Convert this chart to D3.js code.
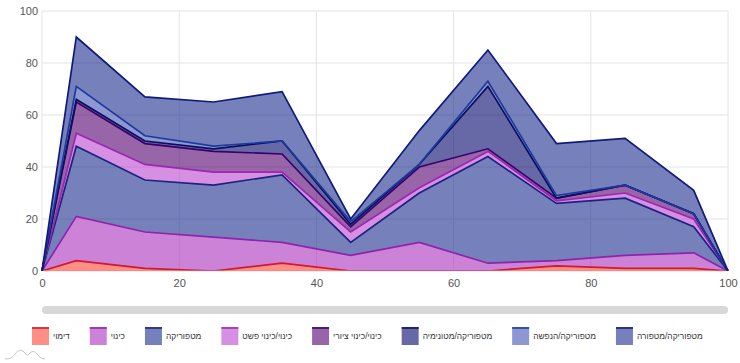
<!DOCTYPE html>
<html lang="he">
<head>
  <meta charset="UTF-8">
  <title>Stacked area</title>
  <script src="https://d3js.org/d3.v7.min.js"></script>
  <style>
    body { margin: 0; background: #fff; font-family: Roboto, "Open Sans", sans-serif; }
    svg { display: block; }
    .tick text { font-size: 11px; fill: #555; }
    .legend text { font-size: 8.4px; fill: #333; font-family: "Liberation Sans", Arial, sans-serif; }
  </style>
</head>
<body>
  <svg id="chart" width="740" height="363"></svg>

  <script>
    const xValues = [0, 5, 15, 25, 35, 45, 55, 65, 75, 85, 95, 100];
    const names = ["דימוי", "כינוי", "מטפוריקה", "כינוי/כינוי פשט", "כינוי/כינוי ציורי", "מטפוריקה/מטונימיה", "מטפוריקה/הנפשה", "מטפוריקה/מטפורה"];
    const dimui =      [0, 4, 1, 0, 3, 0, 0, 0, 2, 1, 1, 0];
    const kinui =      [0, 17, 14, 13, 8, 6, 11, 3, 2, 5, 6, 0];
    const metaforika = [0, 27, 20, 20, 26, 5, 19, 41, 22, 22, 10, 0];
    const pashut =     [0, 5, 6, 5, 1, 4, 2, 2, 1, 2, 3, 0];
    const tziyuri =    [0, 12, 8, 8, 7, 2, 8, 1, 1, 3, 2, 0];
    const metonimia =  [0, 1, 1, 1, 5, 1, 1, 24, 0, 0, 0, 0];
    const hanpasha =   [0, 5, 2, 1, 0, 1, 0, 2, 1, 0, 0, 0];
    const metafora =   [0, 19, 15, 17, 19, 1, 13, 12, 20, 18, 9, 0];
    const allSeries = [dimui, kinui, metaforika, pashut, tziyuri, metonimia, hanpasha, metafora];
    const fills = ["#ff4435", "#aa2fbb", "#1a2b8e", "#ba44d0", "#53006e", "#00056b", "#3f51b5", "#1a2b8e"];
    const strokes = ["#d0182f", "#8e24aa", "#1a237e", "#9c27b0", "#38006b", "#0d0d5e", "#1a3a9e", "#0f1a7a"];

    const margin = { top: 11, right: 12, left: 42 };
    const plotBottom = 271;
    const svg = d3.select("#chart");

    const x = d3.scaleLinear().domain([0, 100]).range([margin.left, 740 - margin.right]);
    const y = d3.scaleLinear().domain([0, 100]).range([plotBottom, margin.top]);

    const rows = xValues.map((v, i) => {
      const row = { x: v };
      names.forEach((n, s) => { row[n] = allSeries[s][i]; });
      return row;
    });
    const layers = d3.stack().keys(names)(rows);

    // lines stop just above the baseline, a zero value leaves no stroke there
    svg.append("clipPath").attr("id", "plot-clip")
      .append("rect")
      .attr("x", x(0) - 2).attr("y", y(100) - 2)
      .attr("width", x(100) - x(0) + 4).attr("height", y(0) - y(100) + 1.5);

    // grid first, the areas are see-through
    svg.append("g")
      .attr("stroke", "#ececec")
      .attr("stroke-width", 1.5)
      .selectAll("line")
      .data(y.ticks(5))
      .join("line")
      .attr("x1", x(0)).attr("x2", x(100))
      .attr("y1", d => y(d)).attr("y2", d => y(d));

    svg.append("g")
      .attr("stroke", "#e4e4e4")
      .attr("stroke-width", 1)
      .selectAll("line")
      .data(x.ticks(5))
      .join("line")
      .attr("y1", y(0)).attr("y2", y(100))
      .attr("x1", d => x(d)).attr("x2", d => x(d));

    const area = d3.area()
      .x(d => x(d.data.x))
      .y0(d => y(d[0]))
      .y1(d => y(d[1]));
    const line = d3.line()
      .x(d => x(d.data.x))
      .y(d => y(d[1]));

    svg.append("g").selectAll("path").data(layers).join("path")
      .attr("d", area)
      .attr("fill", (d, i) => fills[i])
      .attr("fill-opacity", 0.6);
    svg.append("g").attr("clip-path", "url(#plot-clip)")
      .selectAll("path").data(layers).join("path")
      .attr("d", line)
      .attr("fill", "none")
      .attr("stroke", (d, i) => strokes[i])
      .attr("stroke-width", 1.7);

    const yAxis = svg.append("g")
      .attr("transform", "translate(" + margin.left + ",0)")
      .call(d3.axisLeft(y).ticks(5).tickSize(0).tickPadding(4));
    yAxis.select(".domain").remove();

    const xAxis = svg.append("g")
      .attr("transform", "translate(0," + plotBottom + ")")
      .call(d3.axisBottom(x).ticks(5).tickSize(0).tickPadding(8));
    xAxis.select(".domain").remove();

    // scrollbar under the plot
    svg.append("rect")
      .attr("x", x(0)).attr("y", 306)
      .attr("width", x(100) - x(0)).attr("height", 8)
      .attr("rx", 4)
      .attr("fill", "#d8d8d8");

    // legend, laid out from the measured label widths
    const legend = svg.append("g").attr("class", "legend");
    let legendX = 32;
    names.forEach((n, i) => {
      const g = legend.append("g").attr("transform", "translate(" + legendX + ",327)");
      g.append("rect")
        .attr("width", 17).attr("height", 18)
        .attr("fill", fills[i]).attr("fill-opacity", 0.6);
      g.append("line")
        .attr("x2", 17).attr("y1", 1).attr("y2", 1)
        .attr("stroke", strokes[i]).attr("stroke-width", 1.5);
      const label = g.append("text")
        .attr("x", 21).attr("y", 9).attr("dy", "0.35em")
        .text(n);
      legendX += 21 + label.node().getComputedTextLength() + 20;
    });

    // small mountains logo, bottom left
    svg.append("path")
      .attr("d", "M5,359 C10,359 12,358 15,354 C18,350 21,349 24,352 C26,355 28,356 30,353 C33,350 36,352 38,355 C40,358 42,359 45,359")
      .attr("fill", "none")
      .attr("stroke", "#c4c4c4")
      .attr("stroke-width", 1);
  </script>
</body>
</html>
